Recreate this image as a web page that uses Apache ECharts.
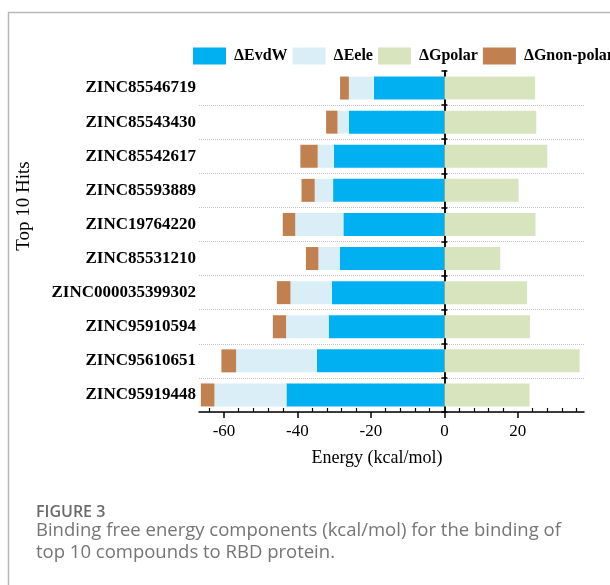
<!DOCTYPE html>
<html>
<head>
<meta charset="utf-8">
<style>
  html, body { margin: 0; padding: 0; background: #ffffff; }
  #chart { width: 610px; height: 585px; }
</style>
<script src="https://cdn.jsdelivr.net/npm/echarts@6/dist/echarts.min.js"></script>
</head>
<body>
<div id="chart"></div>
<script>
// Compounds, listed top to bottom
const compounds = [
  'ZINC85546719', 'ZINC85543430', 'ZINC85542617', 'ZINC85593889', 'ZINC19764220',
  'ZINC85531210', 'ZINC000035399302', 'ZINC95910594', 'ZINC95610651', 'ZINC95919448'
];

// Energy components (kcal/mol)
const evdw      = [-19.2, -26.0, -30.1, -30.3, -27.5, -28.5, -30.6, -31.5, -34.7, -43.0];
const eele      = [-6.8, -3.1, -4.4, -5.0, -13.1, -5.8, -11.3, -11.6, -22.0, -19.6];
const gpolar    = [24.7, 25.0, 28.0, 20.2, 24.8, 15.2, 22.5, 23.3, 36.8, 23.2];
const gnonpolar = [-2.4, -3.1, -4.7, -3.6, -3.4, -3.4, -3.7, -3.6, -4.0, -3.7];

// Axis ticks
const majorTicks = [-60, -40, -20, 0, 20];
const minorTicks = [-64, -56, -52, -48, -44, -36, -32, -28, -24, -16, -12, -8, -4,
                    4, 8, 12, 16, 24, 28, 32, 36];

const SERIF = '"Liberation Serif", "Times New Roman", serif';
const SANS = '"Open Sans", "Noto Sans", sans-serif';
const X_MIN = -66.8, X_MAX = 38;

const chart = echarts.init(document.getElementById('chart'), null, { renderer: 'canvas' });

function bar(name, data, color) {
  return {
    name: name,
    type: 'bar',
    stack: 'energy',
    data: data,
    xAxisIndex: 0,
    yAxisIndex: 0,
    barWidth: 23,
    itemStyle: { color: color },
    emphasis: { disabled: true }
  };
}

const yBase = { type: 'category', data: compounds, inverse: true, position: 'left' };

chart.setOption({
  animation: false,
  backgroundColor: '#ffffff',
  grid: { left: 199, right: 26, top: 71, bottom: 173, containLabel: false },
  legend: {
    left: 193,
    top: 47.5,
    padding: 0,
    width: 600,
    itemWidth: 33,
    itemHeight: 17,
    itemGap: 5,
    icon: 'rect',
    selectedMode: false,
    textStyle: { fontFamily: SERIF, fontSize: 16, fontWeight: 'bold', color: '#000', padding: [0, 0, 0, 3] },
    data: ['ΔEvdW', 'ΔEele', 'ΔGpolar', 'ΔGnon-polar']
  },
  xAxis: [
    {
      type: 'value', min: X_MIN, max: X_MAX, position: 'bottom',
      axisLine: { show: true, onZero: false, lineStyle: { color: '#000', width: 1.5 } },
      axisTick: { show: true, customValues: majorTicks, length: 6, lineStyle: { color: '#000', width: 1.5 } },
      axisLabel: { customValues: majorTicks, margin: 11, fontFamily: SERIF, fontSize: 17, color: '#000' },
      splitLine: { show: false }
    },
    {
      type: 'value', min: X_MIN, max: X_MAX, position: 'bottom',
      axisLine: { show: false, onZero: false },
      axisTick: { show: true, inside: true, customValues: minorTicks, length: 4, lineStyle: { color: '#000', width: 1.2 } },
      axisLabel: { show: false },
      splitLine: { show: false }
    }
  ],
  yAxis: [
    Object.assign({}, yBase, {
      axisLine: { show: false, onZero: false },
      axisTick: { show: false },
      axisLabel: { margin: 3, fontFamily: SERIF, fontSize: 17, fontWeight: 'bold', color: '#000' },
      splitLine: {
        show: true,
        interval: function (index) { return index !== 0; },
        lineStyle: { color: '#c4c4c4', type: 'dotted', width: 1 }
      }
    }),
    Object.assign({}, yBase, {
      axisLine: { show: true, onZero: true, onZeroAxisIndex: 0, lineStyle: { color: '#000', width: 1.5 } },
      axisTick: { show: true, length: 3, lineStyle: { color: '#000', width: 1.5 } },
      axisLabel: { show: false },
      splitLine: { show: false }
    }),
    Object.assign({}, yBase, {
      axisLine: { show: true, onZero: true, onZeroAxisIndex: 0, lineStyle: { color: '#000', width: 1.5 } },
      axisTick: { show: true, inside: true, length: 3, lineStyle: { color: '#000', width: 1.5 } },
      axisLabel: { show: false },
      splitLine: { show: false }
    })
  ],
  series: [
    bar('ΔEvdW', evdw, '#00b0f0'),
    bar('ΔEele', eele, '#daeef8'),
    bar('ΔGpolar', gpolar, '#d7e4bd'),
    bar('ΔGnon-polar', gnonpolar, '#c0804f')
  ],
  graphic: [
    {
      type: 'rect', silent: true, z: -1,
      shape: { x: 8.5, y: 12.5, width: 700, height: 700 },
      style: { fill: 'none', stroke: '#b8b8b8', lineWidth: 1.5 }
    },
    {
      type: 'text', silent: true, x: 377, y: 458,
      style: { text: 'Energy (kcal/mol)', textAlign: 'center', textVerticalAlign: 'middle',
               font: '18px ' + SERIF, fill: '#000' }
    },
    {
      type: 'text', silent: true, x: 24, y: 206, rotation: Math.PI / 2,
      style: { text: 'Top 10 Hits', textAlign: 'center', textVerticalAlign: 'middle',
               font: '19px ' + SERIF, fill: '#000' }
    },
    {
      type: 'text', silent: true, x: 36, y: 512,
      style: { text: 'FIGURE 3', textAlign: 'left', textVerticalAlign: 'middle',
               font: '600 16px ' + SANS, fill: '#6a6a6a' }
    },
    {
      type: 'text', silent: true, x: 36, y: 531,
      style: { text: 'Binding free energy components (kcal/mol) for the binding of', textAlign: 'left',
               textVerticalAlign: 'middle', font: '18.5px ' + SANS, fill: '#757575' }
    },
    {
      type: 'text', silent: true, x: 36, y: 553,
      style: { text: 'top 10 compounds to RBD protein.', textAlign: 'left',
               textVerticalAlign: 'middle', font: '18.5px ' + SANS, fill: '#757575' }
    }
  ]
});
</script>
</body>
</html>
